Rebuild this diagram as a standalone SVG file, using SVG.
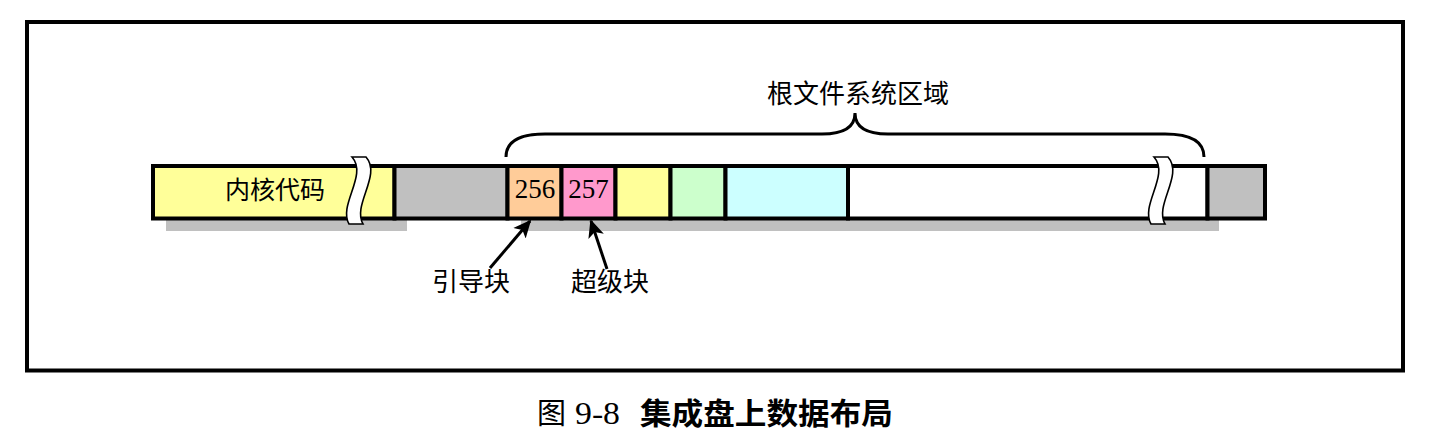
<svg xmlns="http://www.w3.org/2000/svg" width="1430" height="444" viewBox="0 0 1430 444">
<defs>
<style>
.seg{stroke:#000;stroke-width:4}
.shadow{fill:#c0c0c0}
.brk{fill:#fff;stroke:#000;stroke-width:1.6}
.cjk{font-family:"Noto Sans CJK SC","Noto Sans",sans-serif;fill:#000}
.num{font-family:"Liberation Serif","DejaVu Serif",serif;fill:#000}
.conn{fill:none;stroke:#000;stroke-width:3}
</style>
<marker id="ah" viewBox="0 0 10 10" refX="9" refY="5" markerWidth="6" markerHeight="6" markerUnits="strokeWidth" orient="auto">
<path d="M0,0.5 L10,5 L0,9.5 L2.5,5 Z" fill="#000"/>
</marker>
<path id="wave" d="M352,157 C368,175 338,205 349,224 L363,224 C352,205 382,175 366,157 Z"/>
</defs>
<rect width="1430" height="444" fill="#fff"/>
<rect x="27" y="22" width="1376" height="348.5" fill="none" stroke="#000" stroke-width="4"/>

<g id="shadows">
<rect class="shadow" x="166" y="220" width="241" height="11"/>
<rect class="shadow" x="521" y="220" width="698" height="11"/>
</g>

<g id="kernel">
<rect class="seg" x="153" y="166" width="241.5" height="52.5" fill="#ffff99"/>
<text class="cjk" x="275" y="199" font-size="25" text-anchor="middle">内核代码</text>
</g>
<g id="gap1"><rect class="seg" x="394.5" y="166" width="113" height="52.5" fill="#c0c0c0"/></g>
<g id="boot">
<rect class="seg" x="507.5" y="166" width="54" height="52.5" fill="#ffcc99"/>
<text class="num" x="535" y="198" font-size="27" text-anchor="middle">256</text>
</g>
<g id="super">
<rect class="seg" x="561.5" y="166" width="54" height="52.5" fill="#ff99cc"/>
<text class="num" x="588.5" y="198" font-size="27" text-anchor="middle">257</text>
</g>
<g id="seg3"><rect class="seg" x="615.5" y="166" width="55" height="52.5" fill="#ffff99"/></g>
<g id="seg4"><rect class="seg" x="670.5" y="166" width="55" height="52.5" fill="#ccffcc"/></g>
<g id="seg5"><rect class="seg" x="725.5" y="166" width="122.5" height="52.5" fill="#ccffff"/></g>
<g id="seg6"><rect class="seg" x="848" y="166" width="359.5" height="52.5" fill="#ffffff"/></g>
<g id="gap2"><rect class="seg" x="1207.5" y="166" width="57.5" height="52.5" fill="#c0c0c0"/></g>

<g id="breaks">
<use href="#wave" class="brk"/>
<use href="#wave" class="brk" transform="translate(802,0)"/>
</g>

<g id="connectors">
<path class="conn" stroke-width="2" d="M506,157 C506,141 520,134 545,134 L822,134 C842,134 855,128 855,113 C855,128 868,134 888,134 L1165,134 C1190,134 1204,141 1204,157"/>
<line class="conn" x1="490" y1="268" x2="530" y2="221" marker-end="url(#ah)"/>
<line class="conn" x1="607" y1="269" x2="591" y2="221" marker-end="url(#ah)"/>
</g>

<g id="labels">
<text class="cjk" x="858" y="103" font-size="26" text-anchor="middle">根文件系统区域</text>
<text class="cjk" x="471" y="291" font-size="26" text-anchor="middle">引导块</text>
<text class="cjk" x="610" y="291" font-size="26" text-anchor="middle">超级块</text>
</g>

<g id="caption">
<text class="cjk" x="537" y="424" font-size="29">图</text>
<text class="num" x="575" y="424" font-size="31" textLength="45" lengthAdjust="spacingAndGlyphs">9-8</text>
<text class="cjk" x="640" y="424" font-size="30" font-weight="bold" textLength="253" lengthAdjust="spacingAndGlyphs">集成盘上数据布局</text>
</g>
</svg>
